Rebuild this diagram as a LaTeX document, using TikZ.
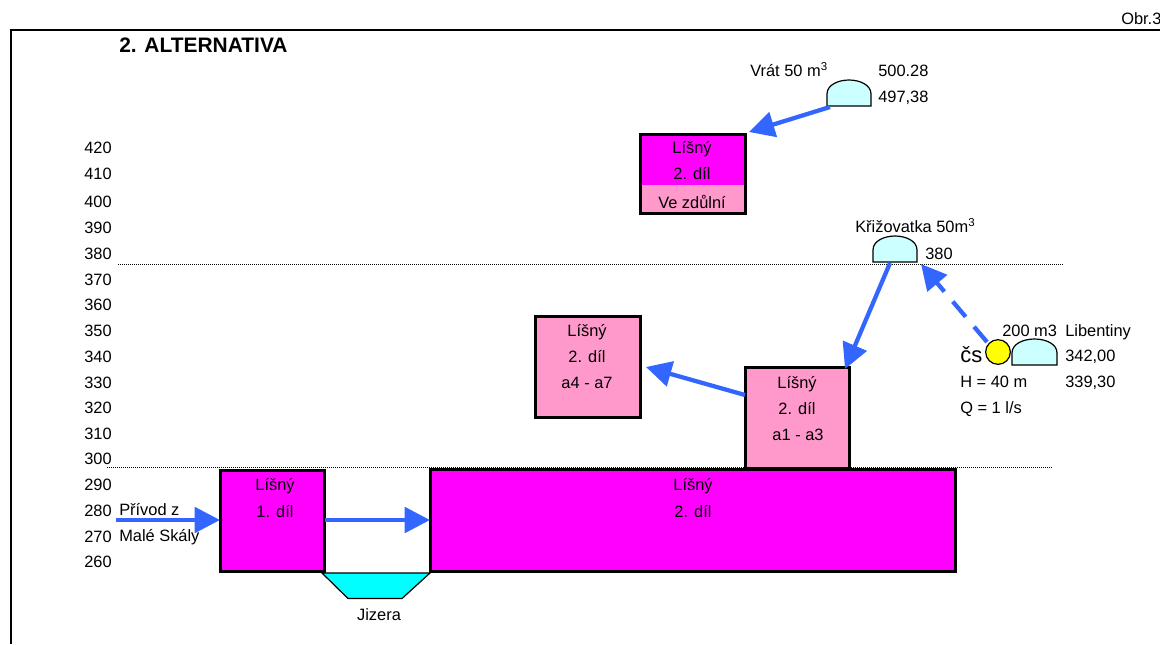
\documentclass[tikz,border=0pt]{standalone}
\usepackage{fontspec}
\setmainfont{Liberation Sans}
\usetikzlibrary{arrows.meta}
\definecolor{mag}{HTML}{FF00FF}
\definecolor{pinkb}{HTML}{FF99CC}
\definecolor{tankc}{HTML}{CCFFFF}
\definecolor{riverc}{HTML}{00FFFF}
\definecolor{flow}{HTML}{3366FF}
\definecolor{pumpc}{HTML}{FFFF00}
\tikzset{
  txt/.style={font=\fontsize{12.3pt}{14pt}\selectfont,inner sep=0pt,anchor=base west},
  ctxt/.style={txt,anchor=base},
  rtxt/.style={txt,anchor=base east},
  boxm/.style={draw=black,line width=2.25pt,inner sep=0pt,outer sep=0pt,minimum width=#1*0.75pt},
  flowline/.style={draw=flow,line width=3.2pt,-{Triangle[length=19pt,width=19pt]},shorten >=0pt},
  tank/.style={draw=black,fill=tankc,line width=0.9pt},
  level/.style={draw=black,line width=0.75pt,dash pattern=on 0.75pt off 0.75pt},
  frameline/.style={draw=black,line width=1.5pt}
}
\begin{document}
\begin{tikzpicture}[x=0.75pt,y=-0.75pt]
\useasboundingbox (0,0) rectangle (1160,644);
% frame
\coordinate (frameA) at (1160,29.5);
\coordinate (frameB) at (10.5,29.5);
\coordinate (frameC) at (10.5,644);
\draw[frameline] (frameA) -- (frameB) -- (frameC);
\node[txt] (obr) at (1121,24) {Obr.3};
\node[txt,font=\fontsize{15.7pt}{18pt}\selectfont\bfseries] (title) at (119,52) {2. ALTERNATIVA};
% level lines
\coordinate (l380a) at (118,264);
\coordinate (l380b) at (1064,264);
\coordinate (l300a) at (107,467);
\coordinate (l300b) at (1052,467);
\draw[level] (l380a) -- (l380b);
\draw[level] (l300a) -- (l300b);
% scale
\foreach \v/\y in {420/153,410/179,400/207,390/233,380/259,370/285,360/310,350/336,340/362,330/388,320/413,310/439,300/464,290/490,280/516,270/542,260/567}
  \node[rtxt] (s\v) at (112,\y) {\v};
% river
\coordinate (r1) at (322,573);
\coordinate (r2) at (430,573);
\coordinate (r3) at (402,598.5);
\coordinate (r4) at (348,598.5);
\draw[fill=riverc,line width=0.9pt] (r1) -- (r2) -- (r3) -- (r4) -- cycle;
\node[ctxt] (jizera) at (379,620) {Jizera};
% boxes
\node[boxm=104.5,fill=mag,minimum height=76pt] (d1) at (272.5,521) {};
\node[boxm=525,fill=mag,minimum height=76pt] (d2) at (693,520.5) {};
\node[boxm=104.5,fill=pinkb,minimum height=76pt] (a13) at (797.5,418) {};
\node[boxm=104.5,fill=pinkb,minimum height=76pt] (a47) at (588,367) {};
\node[boxm=104.5,fill=pinkb,minimum height=59.5pt] (vz) at (693,174) {};
\fill[mag] (vz.north west) rectangle (vz.east |- 0,185);
\draw[line width=2.25pt] (vz.north west) rectangle (vz.south east);
% box labels
\node[ctxt] (t1a) at (275,490) {Líšný};
\node[ctxt] (t1b) at (275,517) {1. díl};
\node[ctxt] (t2a) at (693,490) {Líšný};
\node[ctxt] (t2b) at (693,517) {2. díl};
\node[ctxt] (t3a) at (797,388) {Líšný};
\node[ctxt] (t3b) at (797,414) {2. díl};
\node[ctxt] (t3c) at (798,440) {a1 - a3};
\node[ctxt] (t4a) at (587,336) {Líšný};
\node[ctxt] (t4b) at (587,362) {2. díl};
\node[ctxt] (t4c) at (587,388) {a4 - a7};
\node[ctxt] (t5a) at (692,153) {Líšný};
\node[ctxt] (t5b) at (692,179) {2. díl};
\node[ctxt] (t5c) at (692,208) {Ve zdůlní};
% tanks
\coordinate (vrat) at (849,106);
\draw[tank] (827,106) -- (827,94) .. controls (827,85) and (838,80) .. (849,80) .. controls (860,80) and (871,85) .. (871,94) -- (871,106) -- cycle;
\coordinate (kriz) at (895,262);
\draw[tank] (873,262) -- (873,250) .. controls (873,241) and (884,236) .. (895,236) .. controls (906,236) and (917,241) .. (917,250) -- (917,262) -- cycle;
\coordinate (lib) at (1035,365);
\draw[tank] (1012,365) -- (1012,353) .. controls (1012,344) and (1023,339) .. (1034.5,339) .. controls (1046,339) and (1057,344) .. (1057,353) -- (1057,365) -- cycle;
\node[draw=black,fill=pumpc,circle,line width=0.9pt,minimum size=18.5pt,inner sep=0pt] (pump) at (998,352) {};
% tank labels
\node[txt] (vl) at (750,76) {Vrát 50 m\textsuperscript{3}};
\node[txt] (v1) at (878,76) {500.28};
\node[txt] (v2) at (878,102) {497,38};
\node[txt] (kl) at (855,232) {Křižovatka 50m\textsuperscript{3}};
\node[txt] (k1) at (925,259) {380};
\node[txt] (l0) at (1002,336) {200 m3};
\node[txt] (l1) at (1065,336) {Libentiny};
\node[txt,font=\fontsize{16.5pt}{18pt}\selectfont] (cs) at (960,362) {čs};
\node[txt] (l2) at (1065,361) {342,00};
\node[txt] (l3) at (960,387) {H = 40 m};
\node[txt] (l4) at (1065,387) {339,30};
\node[txt] (l5) at (960,413) {Q = 1 l/s};
\node[txt] (p1) at (119,515) {Přívod z};
\node[txt] (p2) at (119,541) {Malé Skály};
% flows
\coordinate (inflow) at (116,520);
\coordinate (d1in) at (220,520);
\coordinate (d1out) at (325,520);
\coordinate (d2in) at (430,520);
\coordinate (vratOut) at (830,107);
\coordinate (vzIn) at (749,132);
\coordinate (krizOut) at (890,263);
\coordinate (a13In) at (845,369);
\coordinate (pumpOut) at (987,342);
\coordinate (krizIn) at (921,264);
\coordinate (a13Out) at (745,395);
\coordinate (a47In) at (646,367);
\draw[flowline] (inflow) -- (d1in);
\draw[flowline] (d1out) -- (d2in);
\draw[flowline] (vratOut) -- (vzIn);
\draw[flowline] (krizOut) -- (a13In);
\draw[flowline] (a13Out) -- (a47In);
\draw[flowline,dash pattern=on 15pt off 9.75pt] (pumpOut) -- (krizIn);
\end{tikzpicture}
\end{document}
